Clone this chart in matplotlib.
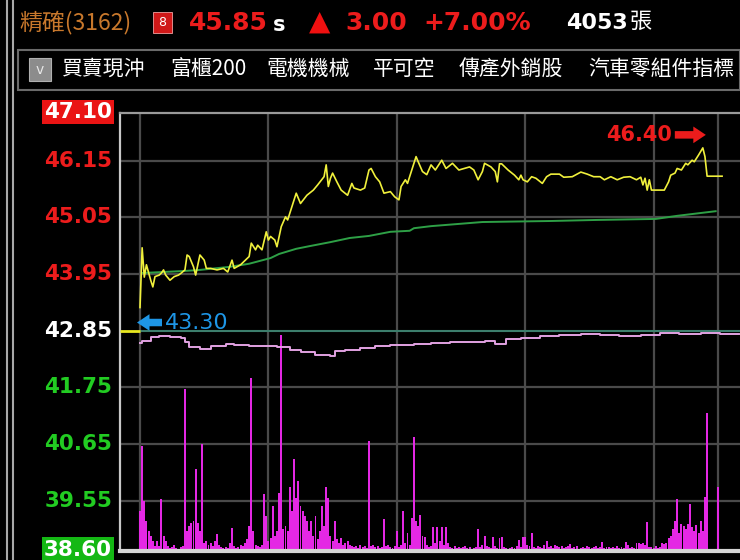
import matplotlib
matplotlib.use("Agg")
import matplotlib.pyplot as plt
from matplotlib.lines import Line2D
from matplotlib.patches import Rectangle
from matplotlib.transforms import blended_transform_factory, offset_copy

# 精確(3162) 分時走勢，單位：分鐘 (09:00 = 0)
price_min = [0, 1, 2, 3, 5, 6, 7, 9, 10, 11, 12, 14, 16, 18, 19, 21, 22, 23, 25, 26,
             28, 30, 31, 33, 36, 39, 41, 43, 44, 47, 51, 52, 54, 55, 57, 59, 60, 61, 63, 64,
             66, 68, 69, 71, 73, 75, 78, 81, 83, 86, 87, 88, 89, 90, 92, 94, 97, 99, 100, 103,
             105, 107, 108, 110, 112, 114, 117, 119, 121, 122, 124, 125, 127, 129, 130, 132, 134, 136, 138, 141,
             143, 146, 149, 154, 156, 158, 160, 161, 164, 166, 167, 168, 169, 172, 175, 177, 178, 179, 181, 183,
             185, 188, 190, 192, 196, 198, 202, 206, 209, 212, 215, 217, 220, 223, 226, 229, 232, 234, 235, 236,
             237, 238, 239, 241, 245, 247, 248, 250, 251, 253, 255, 256, 258, 259, 261, 263, 264, 265, 272]
price_val = [43.30, 44.46, 43.89, 44.13, 43.83, 43.70, 43.90, 43.93, 43.97, 44.03, 43.93, 43.83, 43.90, 43.93, 43.96, 44.03, 44.32, 44.29, 44.09, 43.93,
             44.32, 44.22, 44.06, 44.06, 44.03, 44.06, 43.99, 44.22, 44.06, 44.13, 44.29, 44.55, 44.42, 44.51, 44.42, 44.77, 44.61, 44.68, 44.61, 44.48,
             44.87, 45.06, 45.00, 45.26, 45.52, 45.32, 45.48, 45.58, 45.68, 45.84, 46.07, 45.65, 45.81, 45.91, 45.74, 45.58, 45.48, 45.71, 45.62, 45.58,
             45.62, 45.97, 46.00, 45.84, 45.74, 45.52, 45.55, 45.45, 45.39, 45.65, 45.78, 45.71, 45.97, 46.23, 46.13, 45.94, 45.88, 46.07, 45.97, 46.16,
             46.00, 46.10, 45.97, 46.03, 45.97, 45.78, 45.94, 46.10, 46.03, 45.94, 45.74, 46.09, 46.09, 45.97, 45.87, 45.78, 45.87, 45.78, 45.74, 45.84,
             45.81, 45.71, 45.84, 45.89, 45.89, 45.83, 45.84, 45.93, 45.89, 45.84, 45.84, 45.78, 45.84, 45.78, 45.83, 45.84, 45.78, 45.83, 45.68, 45.81,
             45.58, 45.78, 45.58, 45.58, 45.58, 45.74, 45.87, 45.91, 46.00, 45.97, 46.10, 46.07, 46.16, 46.13, 46.26, 46.40, 46.23, 45.85, 45.85]

avg_min = [1, 21, 28, 42, 51, 61, 65, 73, 79, 89, 98, 107, 117, 126, 128, 136, 160, 192, 213, 241, 251, 263, 269]
avg_val = [43.97, 44.01, 44.03, 44.09, 44.15, 44.26, 44.34, 44.44, 44.49, 44.57, 44.65, 44.69, 44.77, 44.79, 44.84, 44.88,
           44.96, 44.98, 45.00, 45.02, 45.08, 45.14, 45.17]

pink_min = [0, 1, 5, 9, 14, 19, 21, 23, 28, 33, 40, 44, 51, 58, 64, 70, 75, 82, 89, 91, 96, 103, 110, 117, 124, 128,
            136, 145, 154, 161, 166, 171, 178, 187, 196, 206, 215, 224, 234, 243, 252, 262, 271, 280]
pink_val = [42.61, 42.65, 42.73, 42.75, 42.73, 42.71, 42.63, 42.53, 42.49, 42.55, 42.59, 42.57, 42.55, 42.55, 42.53, 42.47,
            42.44, 42.38, 42.36, 42.46, 42.47, 42.51, 42.55, 42.57, 42.57, 42.59, 42.61, 42.63, 42.63, 42.65, 42.59, 42.69,
            42.71, 42.75, 42.77, 42.79, 42.77, 42.75, 42.77, 42.81, 42.79, 42.81, 42.79, 42.79]

# 每分鐘成交量 (09:00 起)
volume = [40, 105, 50, 30, 20, 15, 10, 5, 10, 5,
          52, 15, 10, 5, 3, 4, 6, 3, 2, 4,
          5, 162, 20, 25, 28, 30, 82, 28, 20, 107,
          8, 10, 6, 8, 5, 10, 17, 6, 4, 3,
          4, 3, 8, 23, 5, 3, 4, 6, 5, 8,
          12, 25, 173, 20, 6, 5, 4, 6, 57, 35,
          10, 13, 45, 15, 20, 58, 216, 22, 25, 20,
          64, 40, 92, 53, 70, 45, 40, 35, 30, 20,
          30, 15, 35, 12, 20, 45, 25, 64, 53, 15,
          10, 30, 12, 8, 13, 6, 8, 10, 6, 5,
          4, 5, 3, 6, 4, 5, 3, 110, 5, 6,
          4, 5, 3, 4, 32, 5, 6, 4, 3, 5,
          20, 4, 6, 40, 8, 18, 6, 33, 114, 30,
          25, 36, 15, 14, 6, 4, 5, 24, 8, 24,
          10, 24, 6, 24, 8, 4, 3, 5, 3, 4,
          3, 4, 5, 3, 4, 2, 3, 4, 22, 4,
          6, 15, 5, 4, 3, 14, 5, 3, 13, 14,
          4, 3, 2, 3, 4, 3, 5, 11, 4, 14,
          14, 6, 5, 18, 4, 3, 5, 4, 3, 6,
          10, 4, 5, 3, 6, 5, 4, 5, 3, 4,
          5, 7, 3, 4, 5, 2, 3, 4, 3, 5,
          4, 3, 4, 5, 3, 4, 9, 3, 4, 4,
          3, 4, 3, 5, 3, 4, 3, 9, 6, 3,
          4, 3, 8, 8, 7, 8, 6, 29, 4, 4,
          3, 5, 3, 4, 8, 7, 8, 13, 15, 22,
          30, 52, 18, 27, 25, 22, 27, 47, 24, 20,
          26, 18, 30, 20, 54, 138, 0, 0, 0, 0,
          64, 0, 0]
volume_min = list(range(len(volume)))

y_ticks = [47.10, 46.15, 45.05, 43.95, 42.85, 41.75, 40.65, 39.55, 38.60]
grid_prices = [46.15, 45.05, 43.95, 41.75, 40.65, 39.55]
grid_minutes = [0, 60, 120, 180, 240, 270]
ref_price = 42.85
high_min, high_price = 263, 46.40
open_min, open_price = 0, 43.30

toolbar_items = ["買賣現沖", "富櫃200", "電機機械", "平可空", "傳產外銷股", "汽車零組件指標"]
toolbar_x = [62, 170, 266, 373, 459, 588]

W, H = 740, 560
PX_PER_MIN = 2.14
CJK = ["Noto Sans CJK TC", "DejaVu Sans"]
RED = "#ec1c1c"
GREEN = "#22cc22"
GRID = "#4a4a4a"
ARROW = "simple,head_length=0.75,head_width=1.0,tail_width=0.45"


def fx(px):
    return px / W


def fy(py):
    return 1 - py / H


fig = plt.figure(figsize=(W / 100, H / 100), dpi=100, facecolor="black")

rect = [fx(120), fy(551), fx(740) - fx(120), fy(113) - fy(551)]
ax_vol = fig.add_axes(rect)
ax = fig.add_axes(rect, sharex=ax_vol)
ax.patch.set_visible(False)
ax_vol.set_facecolor("black")
ax_vol.set_xlim(-20 / PX_PER_MIN, 600 / PX_PER_MIN)
ax.set_ylim(38.572, 47.077)
ax_vol.set_ylim(0, 438)

for a in (ax, ax_vol):
    a.set_xticks([])
    a.set_yticks([])
for s in ax.spines.values():
    s.set_visible(False)
ax_vol.spines["right"].set_visible(False)
ax_vol.spines["left"].set_color("#c8c8c8")
ax_vol.spines["left"].set_linewidth(1.6)
ax_vol.spines["top"].set_color("#9a9a9a")
ax_vol.spines["top"].set_linewidth(1.6)
ax_vol.spines["bottom"].set_color("#d4d4d4")
ax_vol.spines["bottom"].set_linewidth(3)

# 格線畫在量的底層，柱子蓋在上面
for t in grid_minutes:
    ax_vol.axvline(t, color=GRID, lw=1.6, zorder=0)
tr = blended_transform_factory(ax_vol.transAxes, ax.transData)
for v in grid_prices:
    ax_vol.add_line(Line2D([0, 1], [v, v], transform=tr, color=GRID, lw=1.6, zorder=0))

ax_vol.bar(volume_min, volume, width=0.9, color="#e428e4", linewidth=0, zorder=2)

xmin, xmax = ax_vol.get_xlim()
ax.hlines(ref_price, 0, xmax, color="#3c7e6c", lw=1.5, zorder=1)
ax.hlines(ref_price, xmin, 0, color="#e8e820", lw=2, zorder=1)

ax.plot(pink_min, pink_val, color="#e2a2e2", lw=1.4, drawstyle="steps-post", zorder=2)
ax.plot(avg_min, avg_val, color="#2ea046", lw=1.4, zorder=3)
ax.plot(price_min, price_val, color="#f0f03c", lw=1.2, zorder=4)

# 最高價標記
hi_tip = offset_copy(ax.transData, fig=fig, x=3, y=13, units="dots")
hi_tail = offset_copy(ax.transData, fig=fig, x=-28, y=13, units="dots")
ax.annotate("", xy=(high_min, high_price), xycoords=hi_tip,
            xytext=(high_min, high_price), textcoords=hi_tail,
            arrowprops=dict(arrowstyle=ARROW, color=RED, lw=0, mutation_scale=12,
                            shrinkA=0, shrinkB=0))
ax.annotate(f"{high_price:.2f}", xy=(high_min, high_price), xytext=(-31, 13),
            textcoords="offset pixels", ha="right", va="center",
            color=RED, fontsize=15, fontweight="bold")

# 開盤價標記
op_tip = offset_copy(ax.transData, fig=fig, x=-3, y=-15, units="dots")
op_tail = offset_copy(ax.transData, fig=fig, x=22, y=-15, units="dots")
ax.annotate("", xy=(open_min, open_price), xycoords=op_tip,
            xytext=(open_min, open_price), textcoords=op_tail,
            arrowprops=dict(arrowstyle=ARROW, color="#1e96e6", lw=0, mutation_scale=12,
                            shrinkA=0, shrinkB=0))
ax.annotate(f"{open_price:.2f}", xy=(open_min, open_price), xytext=(25, -15),
            textcoords="offset pixels", ha="left", va="center",
            color="#1e96e6", fontsize=16)

# 左側價格刻度
lab_tr = blended_transform_factory(fig.transFigure, ax.transData)
for v in y_ticks:
    kw = dict(transform=lab_tr, ha="right", va="center", fontsize=15.5,
              fontweight="bold", clip_on=False)
    if v == y_ticks[0]:
        ax.text(fx(112), v, f"{v:.2f}", color="white",
                bbox=dict(boxstyle="square,pad=0.1", fc="#ea1414", ec="none"), **kw)
    elif v == y_ticks[-1]:
        ax.text(fx(112), v, f"{v:.2f}", color="white",
                bbox=dict(boxstyle="square,pad=0.1", fc="#14b814", ec="none"), **kw)
    elif v > ref_price:
        ax.text(fx(112), v, f"{v:.2f}", color=RED, **kw)
    elif v < ref_price:
        ax.text(fx(112), v, f"{v:.2f}", color=GREEN, **kw)
    else:
        ax.text(fx(112), v, f"{v:.2f}", color="white", **kw)

# 左邊框雙線
for x in (7, 13):
    fig.add_artist(Line2D([fx(x), fx(x)], [0, 1], color="#a8a8a8", lw=1.5))

# 標題列
fig.text(fx(19), fy(22), "精確(3162)", color="#c8782c", fontsize=16.5, family=CJK, va="center")
fig.add_artist(Rectangle((fx(153), fy(33)), fx(19), fy(12) - fy(33), fc="#d01818",
                         ec="#f0a0a0", lw=0.6, transform=fig.transFigure))
fig.text(fx(162.5), fy(22.5), "8", color="white", fontsize=9, ha="center", va="center")
fig.text(fx(189), fy(23), "45.85", color=RED, fontsize=18, fontweight="bold", va="center")
fig.text(fx(273), fy(25), "s", color="white", fontsize=15, fontweight="bold", va="center")
fig.text(fx(309), fy(22), "▲", color="#f01010", fontsize=20, va="center")
fig.text(fx(345), fy(23), "3.00", color=RED, fontsize=18, fontweight="bold", va="center")
fig.text(fx(423), fy(23), "+7.00%", color=RED, fontsize=18, fontweight="bold", va="center")
fig.text(fx(566), fy(23), "4053", color="white", fontsize=16, fontweight="bold", va="center")
fig.text(fx(630), fy(21), "張", color="white", fontsize=16, family=CJK, va="center")

# 工具列
fig.add_artist(Rectangle((fx(18), fy(90)), fx(740) - fx(18), fy(50) - fy(90), fc="none",
                         ec="#6a6a6a", lw=1.5, transform=fig.transFigure))
fig.add_artist(Rectangle((fx(29), fy(81)), fx(22), fy(58) - fy(81), fc="#8c8c8c",
                         ec="#b0b0b0", lw=0.8, transform=fig.transFigure))
fig.text(fx(40), fy(70), "v", color="#e8e8e8", fontsize=10, ha="center", va="center")
for label, x in zip(toolbar_items, toolbar_x):
    fig.text(fx(x), fy(69), label, color="white", fontsize=15, family=CJK, va="center")

fig.savefig("out.png", dpi=100, facecolor="black")
